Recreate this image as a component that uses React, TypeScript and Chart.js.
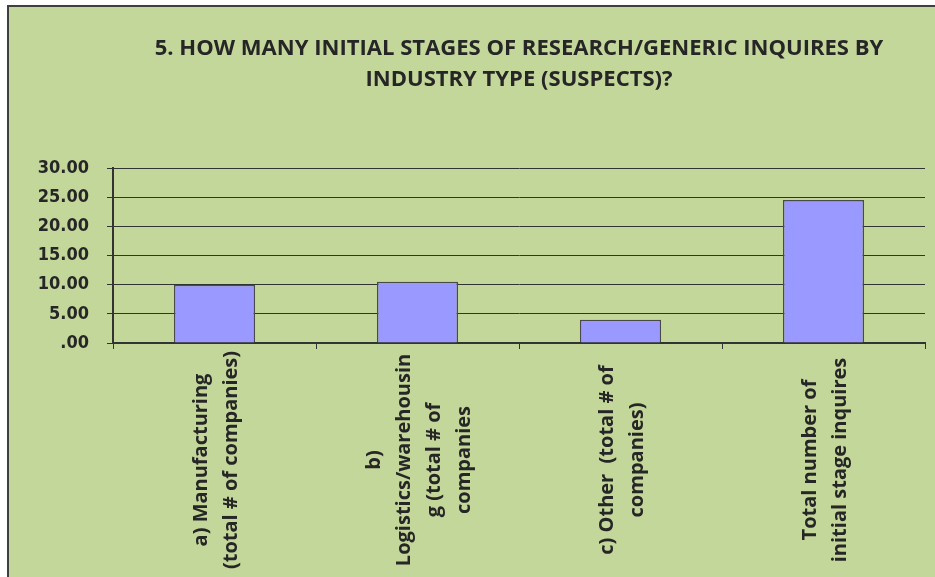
import React, { useEffect, useRef } from "react";
import { Chart, registerables } from "chart.js";

Chart.register(...registerables);

const titleLines = [
  "5. HOW MANY INITIAL STAGES OF RESEARCH/GENERIC INQUIRES BY",
  "INDUSTRY TYPE (SUSPECTS)?",
];

const categories: string[][] = [
  ["a) Manufacturing", "(total # of companies)"],
  ["b)", "Logistics/warehousin", "g (total # of", "companies"],
  ["c) Other  (total # of", "companies)"],
  ["Total number of", "initial stage inquires"],
];

const values = [10, 10.5, 4, 24.5];

const yMin = 0;
const yMax = 30;
const yStep = 5;

const BG = "#c4d79b";
const BAR = "#9999ff";
const DARK = "#333333";
const TEXT = "#262626";

const TITLE_FAMILY = '"Open Sans", sans-serif';
const TITLE_TARGET_WIDTH = 729;
const LABEL_FONT = 'bold 20px "Open Sans"';
const LABEL_LINE = 30;

const centeredXLabels = {
  id: "centeredXLabels",
  afterDraw(chart: any) {
    const scale = chart.scales.x;
    const ctx = chart.ctx as CanvasRenderingContext2D;
    const midY = (scale.top + scale.bottom) / 2;
    ctx.save();
    ctx.font = LABEL_FONT;
    ctx.fillStyle = TEXT;
    ctx.textAlign = "center";
    ctx.textBaseline = "middle";
    categories.forEach((lines, i) => {
      const x = scale.getPixelForValue(i) + 2;
      const n = lines.length;
      lines.forEach((line, j) => {
        const dx = (j - (n - 1) / 2) * LABEL_LINE;
        ctx.save();
        ctx.translate(x + dx, midY);
        ctx.rotate(-Math.PI / 2);
        ctx.fillText(line, 0, 0);
        ctx.restore();
      });
    });
    ctx.restore();
  },
};

function fitTitleSize(): number {
  const c = document.createElement("canvas");
  const ctx = c.getContext("2d");
  if (!ctx) return 24;
  ctx.font = `bold 100px ${TITLE_FAMILY}`;
  const w = ctx.measureText(titleLines[0]).width;
  return w > 0 ? Math.min(26, (TITLE_TARGET_WIDTH / w) * 100) : 24;
}

export default function App() {
  const ref = useRef<HTMLCanvasElement | null>(null);

  useEffect(() => {
    if (!ref.current) return;
    const titleSize = fitTitleSize();
    const chart = new Chart(ref.current, {
      type: "bar",
      data: {
        labels: categories.map((c) => c.join(" ")),
        datasets: [
          {
            data: values,
            backgroundColor: BAR,
            borderColor: "#4a4a4a",
            borderWidth: 1.5,
            barPercentage: 0.4,
            categoryPercentage: 1,
          },
        ],
      },
      options: {
        animation: false,
        responsive: false,
        layout: { padding: { left: 0, right: 10, top: 0, bottom: 0 } },
        plugins: {
          legend: { display: false },
          tooltip: { enabled: false },
          title: {
            display: true,
            fullSize: false,
            text: titleLines,
            color: TEXT,
            font: {
              family: TITLE_FAMILY,
              size: titleSize,
              weight: "bold",
              lineHeight: "31px",
            },
            padding: { top: 26, bottom: 73 },
          },
        },
        scales: {
          x: {
            ticks: { display: false },
            grid: {
              display: true,
              drawOnChartArea: false,
              drawTicks: true,
              tickLength: 6,
              color: DARK,
              lineWidth: 1,
              offset: true,
            },
            border: { display: true, color: DARK, width: 2 },
            afterFit(scale: any) {
              scale.height = 234;
            },
          },
          y: {
            min: yMin,
            max: yMax,
            ticks: {
              stepSize: yStep,
              color: TEXT,
              padding: 18,
              font: { family: '"DejaVu Sans Condensed", "DejaVu Sans"', size: 18, weight: "bold" },
              callback: (v: any) => (Number(v) === 0 ? ".00" : Number(v).toFixed(2)),
            },
            grid: {
              color: DARK,
              lineWidth: 1,
              tickLength: 6,
            },
            border: { display: true, color: DARK, width: 2 },
            afterFit(scale: any) {
              scale.width = 104;
            },
          },
        },
      },
      plugins: [centeredXLabels],
    });
    return () => chart.destroy();
  }, []);

  return (
    <div
      style={{
        position: "fixed",
        left: 7,
        top: 5,
        width: 928,
        height: 572,
        boxSizing: "border-box",
        borderLeft: "2px solid #3f3f3f",
        borderTop: "2px solid #3f3f3f",
        background: BG,
        overflow: "hidden",
      }}
    >
      <canvas ref={ref} width={926} height={570} style={{ display: "block" }} />
    </div>
  );
}
